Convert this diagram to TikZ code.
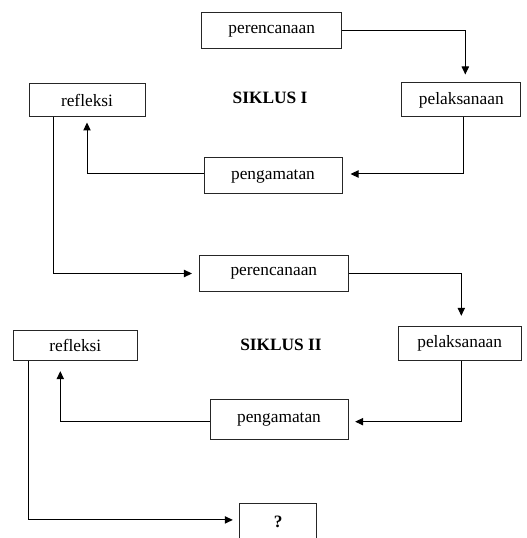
\documentclass[tikz,border=0pt]{standalone}
\usepackage{fontspec}
\setmainfont{Liberation Serif}
\usetikzlibrary{arrows.meta}
\begin{document}
\begin{tikzpicture}[x=0.75pt,y=-0.75pt,
  box/.style={draw=black!85, line width=0.75pt, inner sep=0pt, font=\fontsize{13}{15}\selectfont},
  lbl/.style={font=\fontsize{13}{15}\selectfont\bfseries},
  arr/.style={draw=black, line width=0.75pt, -{Triangle[length=6pt,width=5.5pt]}, shorten >=6pt}]
\useasboundingbox (0,0) rectangle (527,538);
% Siklus I
\node[box, minimum width=105pt, minimum height=27pt] (p1) at (271.7,31) {\raisebox{1.5pt}{perencanaan}};
\node[box, minimum width=87pt, minimum height=25pt] (r1) at (87,100) {refleksi};
\node[box, minimum width=89pt, minimum height=25.5pt] (l1) at (461.3,100) {pelaksanaan};
\node[box, minimum width=103.5pt, minimum height=27pt] (g1) at (273,176) {pengamatan};
\node[lbl] (s1) at (270,98) {SIKLUS I};
% Siklus II
\node[box, minimum width=112pt, minimum height=26.7pt] (p2) at (273.8,273.5) {\raisebox{1.5pt}{perencanaan}};
\node[box, minimum width=93pt, minimum height=22.5pt] (r2) at (75.3,345) {refleksi};
\node[box, minimum width=92pt, minimum height=24.8pt] (l2) at (459.7,343.5) {\raisebox{1.5pt}{pelaksanaan}};
\node[box, minimum width=103.5pt, minimum height=30pt] (g2) at (279,419) {\raisebox{2pt}{pengamatan}};
\node[lbl] (s2) at (281,345) {SIKLUS II};
\node[box, minimum width=57.5pt, minimum height=34pt, anchor=north] (q) at (278.3,503.3) {\raisebox{7pt}{\bfseries ?}};
% connectors
\draw[arr] (p1.east) -| ([xshift=3pt]l1.north);
\draw[arr] ([xshift=2pt]l1.south) |- ([yshift=1.5pt]g1.east);
\draw[arr, shorten >=4pt] ([yshift=1.5pt]g1.west) -| (r1.south);
\draw[arr, shorten >=5pt] ([xshift=19pt]r1.south west) |- (p2.west);
\draw[arr, shorten >=8pt] (p2.east) -| ([xshift=1.2pt]l2.north);
\draw[arr, shorten >=5pt] ([xshift=1.2pt]l2.south) |- ([yshift=-2pt]g2.east);
\draw[arr, shorten >=8pt] ([yshift=-2pt]g2.west) -| ([xshift=-11.25pt]r2.south);
\draw[arr, shorten >=5pt] ([xshift=11.5pt]r2.south west) |- ([yshift=4.9pt]q.west);
\end{tikzpicture}
\end{document}
